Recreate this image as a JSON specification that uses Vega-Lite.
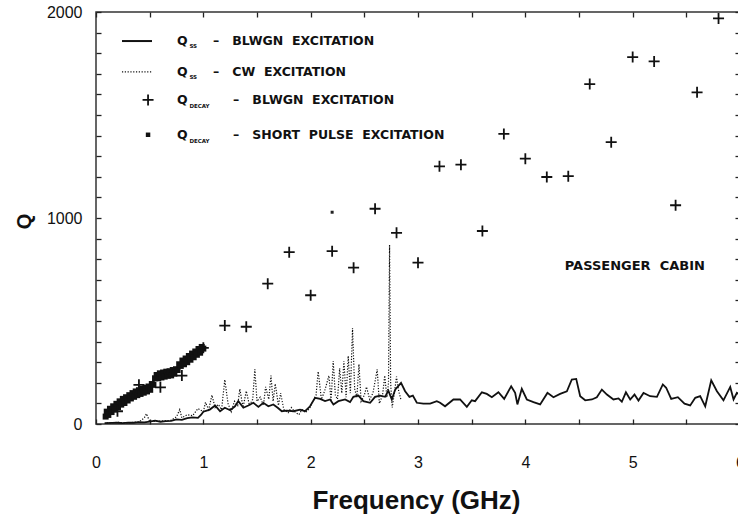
{
  "$schema": "https://vega.github.io/schema/vega-lite/v6.json",
  "width": 644,
  "height": 412,
  "autosize": {"type": "none"},
  "padding": {"left": 96, "top": 12, "right": 0, "bottom": 95},
  "background": "white",
  "config": {
    "font": "Liberation Sans",
    "view": {"stroke": "#333", "strokeWidth": 1.5},
    "axis": {"domain": false, "grid": false, "ticks": true, "tickColor": "#222", "tickOpacity": 1, "tickWidth": 1.3, "tickSize": 5, "offset": -5, "labelColor": "#111", "titleColor": "#111", "labelFont": "Liberation Sans", "titleFont": "Liberation Sans"},
    "text": {"font": "DejaVu Sans", "fontWeight": "bold", "color": "#111"}
  },
  "datasets": {
    "ssBlwgn": [
      {"f": 0.08, "q": 4}, {"f": 0.15, "q": 5}, {"f": 0.2, "q": 6}, {"f": 0.25, "q": 4}, {"f": 0.3, "q": 7},
      {"f": 0.35, "q": 6}, {"f": 0.4, "q": 9}, {"f": 0.45, "q": 8}, {"f": 0.5, "q": 12}, {"f": 0.55, "q": 16},
      {"f": 0.6, "q": 11}, {"f": 0.65, "q": 14}, {"f": 0.7, "q": 15}, {"f": 0.75, "q": 22}, {"f": 0.8, "q": 20},
      {"f": 0.85, "q": 28}, {"f": 0.9, "q": 32}, {"f": 0.95, "q": 30}, {"f": 0.98, "q": 45}, {"f": 1.0, "q": 60},
      {"f": 1.06, "q": 70}, {"f": 1.11, "q": 90}, {"f": 1.156, "q": 62}, {"f": 1.2, "q": 79}, {"f": 1.25, "q": 67},
      {"f": 1.295, "q": 86}, {"f": 1.326, "q": 111}, {"f": 1.373, "q": 79}, {"f": 1.419, "q": 90}, {"f": 1.466, "q": 103},
      {"f": 1.513, "q": 83}, {"f": 1.559, "q": 103}, {"f": 1.606, "q": 86}, {"f": 1.652, "q": 95}, {"f": 1.693, "q": 79},
      {"f": 1.731, "q": 62}, {"f": 1.777, "q": 65}, {"f": 1.839, "q": 62}, {"f": 1.901, "q": 70}, {"f": 1.948, "q": 62},
      {"f": 1.994, "q": 86}, {"f": 2.041, "q": 127}, {"f": 2.088, "q": 122}, {"f": 2.134, "q": 111}, {"f": 2.181, "q": 119},
      {"f": 2.212, "q": 95}, {"f": 2.258, "q": 111}, {"f": 2.321, "q": 119}, {"f": 2.367, "q": 106}, {"f": 2.398, "q": 132},
      {"f": 2.445, "q": 138}, {"f": 2.491, "q": 111}, {"f": 2.554, "q": 103}, {"f": 2.6, "q": 132}, {"f": 2.647, "q": 138},
      {"f": 2.693, "q": 132}, {"f": 2.724, "q": 162}, {"f": 2.756, "q": 119}, {"f": 2.787, "q": 167}, {"f": 2.842, "q": 200},
      {"f": 2.88, "q": 159}, {"f": 2.92, "q": 132}, {"f": 2.952, "q": 138}, {"f": 2.989, "q": 103}, {"f": 3.05, "q": 99},
      {"f": 3.113, "q": 99}, {"f": 3.175, "q": 111}, {"f": 3.206, "q": 103}, {"f": 3.252, "q": 86}, {"f": 3.33, "q": 119},
      {"f": 3.392, "q": 119}, {"f": 3.455, "q": 83}, {"f": 3.501, "q": 115}, {"f": 3.532, "q": 111}, {"f": 3.595, "q": 154},
      {"f": 3.641, "q": 146}, {"f": 3.688, "q": 130}, {"f": 3.749, "q": 154}, {"f": 3.803, "q": 122}, {"f": 3.868, "q": 183},
      {"f": 3.905, "q": 151}, {"f": 3.926, "q": 95}, {"f": 3.967, "q": 171}, {"f": 4.014, "q": 119}, {"f": 4.076, "q": 106},
      {"f": 4.138, "q": 95}, {"f": 4.206, "q": 151}, {"f": 4.262, "q": 130}, {"f": 4.324, "q": 146}, {"f": 4.387, "q": 159},
      {"f": 4.433, "q": 216}, {"f": 4.474, "q": 219}, {"f": 4.511, "q": 135}, {"f": 4.558, "q": 115}, {"f": 4.62, "q": 119},
      {"f": 4.666, "q": 130}, {"f": 4.713, "q": 167}, {"f": 4.76, "q": 143}, {"f": 4.821, "q": 119}, {"f": 4.868, "q": 124},
      {"f": 4.899, "q": 108}, {"f": 4.937, "q": 154}, {"f": 4.977, "q": 119}, {"f": 5.017, "q": 143}, {"f": 5.054, "q": 114},
      {"f": 5.101, "q": 151}, {"f": 5.163, "q": 135}, {"f": 5.226, "q": 132}, {"f": 5.281, "q": 192}, {"f": 5.312, "q": 176},
      {"f": 5.359, "q": 122}, {"f": 5.421, "q": 130}, {"f": 5.483, "q": 99}, {"f": 5.536, "q": 90}, {"f": 5.583, "q": 127},
      {"f": 5.629, "q": 135}, {"f": 5.676, "q": 86}, {"f": 5.732, "q": 212}, {"f": 5.785, "q": 159}, {"f": 5.846, "q": 115},
      {"f": 5.909, "q": 180}, {"f": 5.94, "q": 119}, {"f": 5.971, "q": 151}, {"f": 6.0, "q": 140}
    ],
    "ssCw": [
      {"f": 0.1, "q": 5}, {"f": 0.2, "q": 8}, {"f": 0.3, "q": 6}, {"f": 0.4, "q": 10}, {"f": 0.45, "q": 30},
      {"f": 0.47, "q": 50}, {"f": 0.5, "q": 12}, {"f": 0.6, "q": 14}, {"f": 0.7, "q": 18}, {"f": 0.75, "q": 35},
      {"f": 0.78, "q": 70}, {"f": 0.8, "q": 30}, {"f": 0.85, "q": 45}, {"f": 0.9, "q": 40}, {"f": 0.95, "q": 75},
      {"f": 1.0, "q": 60}, {"f": 1.02, "q": 105}, {"f": 1.05, "q": 70}, {"f": 1.08, "q": 140}, {"f": 1.11, "q": 80},
      {"f": 1.14, "q": 95}, {"f": 1.17, "q": 70}, {"f": 1.2, "q": 215}, {"f": 1.23, "q": 100}, {"f": 1.26, "q": 60},
      {"f": 1.29, "q": 110}, {"f": 1.32, "q": 90}, {"f": 1.34, "q": 170}, {"f": 1.37, "q": 80}, {"f": 1.4, "q": 160},
      {"f": 1.43, "q": 90}, {"f": 1.46, "q": 120}, {"f": 1.48, "q": 265}, {"f": 1.5, "q": 110}, {"f": 1.53, "q": 130},
      {"f": 1.56, "q": 90}, {"f": 1.58, "q": 180}, {"f": 1.61, "q": 120}, {"f": 1.63, "q": 235}, {"f": 1.65, "q": 110},
      {"f": 1.67, "q": 195}, {"f": 1.7, "q": 90}, {"f": 1.72, "q": 150}, {"f": 1.75, "q": 70}, {"f": 1.79, "q": 55},
      {"f": 1.82, "q": 80}, {"f": 1.85, "q": 60}, {"f": 1.89, "q": 45}, {"f": 1.92, "q": 70}, {"f": 1.95, "q": 55},
      {"f": 1.99, "q": 75}, {"f": 2.02, "q": 110}, {"f": 2.05, "q": 140}, {"f": 2.07, "q": 255}, {"f": 2.1, "q": 120},
      {"f": 2.13, "q": 160}, {"f": 2.17, "q": 235}, {"f": 2.19, "q": 110}, {"f": 2.21, "q": 305}, {"f": 2.23, "q": 140},
      {"f": 2.25, "q": 120}, {"f": 2.27, "q": 270}, {"f": 2.29, "q": 150}, {"f": 2.31, "q": 305}, {"f": 2.33, "q": 130},
      {"f": 2.35, "q": 330}, {"f": 2.37, "q": 150}, {"f": 2.39, "q": 465}, {"f": 2.41, "q": 170}, {"f": 2.43, "q": 130},
      {"f": 2.45, "q": 290}, {"f": 2.47, "q": 110}, {"f": 2.5, "q": 140}, {"f": 2.52, "q": 180}, {"f": 2.55, "q": 120},
      {"f": 2.58, "q": 150}, {"f": 2.62, "q": 265}, {"f": 2.64, "q": 100}, {"f": 2.67, "q": 140}, {"f": 2.69, "q": 235},
      {"f": 2.71, "q": 130}, {"f": 2.725, "q": 200}, {"f": 2.735, "q": 870}, {"f": 2.745, "q": 200}, {"f": 2.76, "q": 80},
      {"f": 2.78, "q": 150}, {"f": 2.8, "q": 230}, {"f": 2.82, "q": 160}, {"f": 2.84, "q": 120}
    ],
    "decayBlwgn": [
      {"f": 0.2, "q": 62}, {"f": 0.4, "q": 190}, {"f": 0.6, "q": 178}, {"f": 0.8, "q": 235}, {"f": 1.0, "q": 370},
      {"f": 1.2, "q": 478}, {"f": 1.4, "q": 472}, {"f": 1.6, "q": 681}, {"f": 1.8, "q": 834}, {"f": 2.0, "q": 625},
      {"f": 2.2, "q": 839}, {"f": 2.4, "q": 759}, {"f": 2.6, "q": 1045}, {"f": 2.8, "q": 928}, {"f": 3.0, "q": 783},
      {"f": 3.2, "q": 1251}, {"f": 3.4, "q": 1259}, {"f": 3.6, "q": 937}, {"f": 3.8, "q": 1408}, {"f": 4.0, "q": 1288},
      {"f": 4.2, "q": 1199}, {"f": 4.4, "q": 1203}, {"f": 4.6, "q": 1650}, {"f": 4.8, "q": 1368}, {"f": 5.0, "q": 1781},
      {"f": 5.2, "q": 1760}, {"f": 5.4, "q": 1062}, {"f": 5.6, "q": 1610}, {"f": 5.8, "q": 1969}
    ],
    "decayPulse": [
      {"f": 0.09, "q": 36}, {"f": 0.1, "q": 60}, {"f": 0.115, "q": 44}, {"f": 0.13, "q": 74}, {"f": 0.145, "q": 58},
      {"f": 0.16, "q": 86}, {"f": 0.175, "q": 70}, {"f": 0.19, "q": 98}, {"f": 0.205, "q": 82}, {"f": 0.22, "q": 110},
      {"f": 0.235, "q": 94}, {"f": 0.25, "q": 122}, {"f": 0.265, "q": 102}, {"f": 0.28, "q": 130}, {"f": 0.295, "q": 114},
      {"f": 0.31, "q": 140}, {"f": 0.325, "q": 124}, {"f": 0.34, "q": 150}, {"f": 0.355, "q": 132}, {"f": 0.37, "q": 158},
      {"f": 0.385, "q": 140}, {"f": 0.4, "q": 164}, {"f": 0.415, "q": 146}, {"f": 0.43, "q": 170}, {"f": 0.445, "q": 152},
      {"f": 0.46, "q": 176}, {"f": 0.475, "q": 158}, {"f": 0.49, "q": 182}, {"f": 0.505, "q": 166}, {"f": 0.52, "q": 194},
      {"f": 0.535, "q": 190}, {"f": 0.55, "q": 222}, {"f": 0.565, "q": 238}, {"f": 0.58, "q": 222}, {"f": 0.595, "q": 246},
      {"f": 0.61, "q": 226}, {"f": 0.625, "q": 250}, {"f": 0.64, "q": 230}, {"f": 0.655, "q": 254}, {"f": 0.67, "q": 234},
      {"f": 0.685, "q": 256}, {"f": 0.7, "q": 236}, {"f": 0.715, "q": 262}, {"f": 0.73, "q": 244}, {"f": 0.745, "q": 266},
      {"f": 0.76, "q": 262}, {"f": 0.775, "q": 290}, {"f": 0.79, "q": 282}, {"f": 0.805, "q": 308}, {"f": 0.82, "q": 290},
      {"f": 0.835, "q": 318}, {"f": 0.85, "q": 300}, {"f": 0.865, "q": 330}, {"f": 0.88, "q": 312}, {"f": 0.895, "q": 342},
      {"f": 0.91, "q": 324}, {"f": 0.925, "q": 352}, {"f": 0.94, "q": 336}, {"f": 0.955, "q": 364}, {"f": 0.97, "q": 346},
      {"f": 0.985, "q": 374}, {"f": 1.0, "q": 366}, {"f": 2.2, "q": 1028}
    ]
  },
  "layer": [
    {
      "data": {"name": "ssCw"},
      "mark": {"type": "line", "color": "#111", "strokeWidth": 1.2, "strokeDash": [1.2, 1.6]},
      "encoding": {
        "x": {
          "field": "f", "type": "quantitative",
          "scale": {"domain": [0, 6], "nice": false, "zero": false},
          "axis": {
            "orient": "bottom", "values": [0, 0.5, 1, 1.5, 2, 2.5, 3, 3.5, 4, 4.5, 5, 5.5, 6],
            "format": "~g", "labelExpr": "datum.value % 1 ? '' : datum.label",
            "labelOverlap": false, "labelFlush": false,
            "labelPadding": 30, "labelFontSize": 16,
            "title": "Frequency (GHz)", "titleFontSize": 26, "titleFontWeight": "bold",
            "titleX": 320, "titleY": 81, "titleBaseline": "middle", "titleAlign": "center"
          }
        },
        "y": {
          "field": "q", "type": "quantitative",
          "scale": {"domain": [0, 2000], "nice": false},
          "axis": {
            "orient": "left", "values": [0, 100, 200, 300, 400, 500, 600, 700, 800, 900, 1000, 1100, 1200, 1300, 1400, 1500, 1600, 1700, 1800, 1900, 2000],
            "format": "d", "labelExpr": "datum.value % 1000 ? '' : datum.label",
            "labelOverlap": false, "labelFlush": false,
            "labelPadding": 14, "labelFontSize": 16,
            "title": "Q", "titleFontSize": 20, "titleFontWeight": "bold",
            "titleX": -77, "titleY": 209, "titleBaseline": "middle", "titleAlign": "center"
          }
        }
      }
    },
    {
      "data": {"name": "ssBlwgn"},
      "mark": {"type": "line", "color": "#111", "strokeWidth": 1.8},
      "encoding": {
        "x": {
          "field": "f", "type": "quantitative",
          "axis": {"orient": "top", "values": [0, 0.5, 1, 1.5, 2, 2.5, 3, 3.5, 4, 4.5, 5, 5.5, 6], "labels": false, "title": null}
        },
        "y": {
          "field": "q", "type": "quantitative",
          "axis": {"orient": "right", "values": [0, 100, 200, 300, 400, 500, 600, 700, 800, 900, 1000, 1100, 1200, 1300, 1400, 1500, 1600, 1700, 1800, 1900, 2000], "labels": false, "title": null}
        }
      }
    },
    {
      "data": {"name": "decayPulse"},
      "transform": [{"filter": "datum.f <= 1.5"}],
      "mark": {"type": "point", "shape": "square", "filled": true, "color": "#111", "size": 36, "opacity": 1},
      "encoding": {
        "x": {"field": "f", "type": "quantitative", "axis": null},
        "y": {"field": "q", "type": "quantitative", "axis": null}
      }
    },
    {
      "data": {"name": "decayPulse"},
      "transform": [{"filter": "datum.f > 1.5"}],
      "mark": {"type": "point", "shape": "square", "filled": true, "color": "#222", "size": 9, "opacity": 1},
      "encoding": {
        "x": {"field": "f", "type": "quantitative", "axis": null},
        "y": {"field": "q", "type": "quantitative", "axis": null}
      }
    },
    {
      "data": {"name": "decayBlwgn"},
      "mark": {"type": "point", "shape": "M-1,0H1M0,-1V1", "filled": false, "color": "#111", "strokeWidth": 1.8, "size": 121, "opacity": 1},
      "encoding": {
        "x": {"field": "f", "type": "quantitative", "axis": null},
        "y": {"field": "q", "type": "quantitative", "axis": null}
      }
    },
    {
      "data": {"values": [{}]},
      "mark": {"type": "rule", "color": "#111", "strokeWidth": 2},
      "encoding": {
        "x": {"datum": 0.242, "type": "quantitative", "axis": null},
        "x2": {"datum": 0.522},
        "y": {"datum": 1859, "type": "quantitative", "axis": null}
      }
    },
    {
      "data": {"values": [{}]},
      "mark": {"type": "rule", "color": "#111", "strokeWidth": 1.2, "strokeDash": [1.2, 1.6]},
      "encoding": {
        "x": {"datum": 0.242, "type": "quantitative", "axis": null},
        "x2": {"datum": 0.522},
        "y": {"datum": 1709, "type": "quantitative", "axis": null}
      }
    },
    {
      "data": {"values": [{}]},
      "mark": {"type": "point", "shape": "M-1,0H1M0,-1V1", "filled": false, "color": "#111", "strokeWidth": 1.8, "size": 121, "opacity": 1},
      "encoding": {
        "x": {"datum": 0.485, "type": "quantitative", "axis": null},
        "y": {"datum": 1573, "type": "quantitative", "axis": null}
      }
    },
    {
      "data": {"values": [{}]},
      "mark": {"type": "point", "shape": "square", "filled": true, "color": "#111", "size": 20, "opacity": 1},
      "encoding": {
        "x": {"datum": 0.485, "type": "quantitative", "axis": null},
        "y": {"datum": 1404, "type": "quantitative", "axis": null}
      }
    },
    {
      "data": {"values": [{}]},
      "mark": {"type": "text", "text": "Q", "align": "left", "baseline": "middle", "fontSize": 12.5},
      "encoding": {"x": {"datum": 0.755, "type": "quantitative", "axis": null}, "y": {"datum": 1859, "type": "quantitative", "axis": null}}
    },
    {
      "data": {"values": [{}]},
      "mark": {"type": "text", "text": "Q", "align": "left", "baseline": "middle", "fontSize": 12.5},
      "encoding": {"x": {"datum": 0.755, "type": "quantitative", "axis": null}, "y": {"datum": 1709, "type": "quantitative", "axis": null}}
    },
    {
      "data": {"values": [{}]},
      "mark": {"type": "text", "text": "Q", "align": "left", "baseline": "middle", "fontSize": 12.5},
      "encoding": {"x": {"datum": 0.755, "type": "quantitative", "axis": null}, "y": {"datum": 1573, "type": "quantitative", "axis": null}}
    },
    {
      "data": {"values": [{}]},
      "mark": {"type": "text", "text": "Q", "align": "left", "baseline": "middle", "fontSize": 12.5},
      "encoding": {"x": {"datum": 0.755, "type": "quantitative", "axis": null}, "y": {"datum": 1404, "type": "quantitative", "axis": null}}
    },
    {
      "data": {"values": [{}]},
      "mark": {"type": "text", "text": "SS", "align": "left", "baseline": "middle", "fontSize": 5.5},
      "encoding": {"x": {"datum": 0.87, "type": "quantitative", "axis": null}, "y": {"datum": 1834, "type": "quantitative", "axis": null}}
    },
    {
      "data": {"values": [{}]},
      "mark": {"type": "text", "text": "SS", "align": "left", "baseline": "middle", "fontSize": 5.5},
      "encoding": {"x": {"datum": 0.87, "type": "quantitative", "axis": null}, "y": {"datum": 1684, "type": "quantitative", "axis": null}}
    },
    {
      "data": {"values": [{}]},
      "mark": {"type": "text", "text": "DECAY", "align": "left", "baseline": "middle", "fontSize": 5.5},
      "encoding": {"x": {"datum": 0.87, "type": "quantitative", "axis": null}, "y": {"datum": 1543, "type": "quantitative", "axis": null}}
    },
    {
      "data": {"values": [{}]},
      "mark": {"type": "text", "text": "DECAY", "align": "left", "baseline": "middle", "fontSize": 5.5},
      "encoding": {"x": {"datum": 0.87, "type": "quantitative", "axis": null}, "y": {"datum": 1374, "type": "quantitative", "axis": null}}
    },
    {
      "data": {"values": [{}]},
      "mark": {"type": "text", "text": "–\u00a0\u00a0\u00a0BLWGN\u00a0\u00a0EXCITATION", "align": "left", "baseline": "middle", "fontSize": 12.5},
      "encoding": {"x": {"datum": 1.09, "type": "quantitative", "axis": null}, "y": {"datum": 1859, "type": "quantitative", "axis": null}}
    },
    {
      "data": {"values": [{}]},
      "mark": {"type": "text", "text": "–\u00a0\u00a0\u00a0CW\u00a0\u00a0EXCITATION", "align": "left", "baseline": "middle", "fontSize": 12.5},
      "encoding": {"x": {"datum": 1.09, "type": "quantitative", "axis": null}, "y": {"datum": 1709, "type": "quantitative", "axis": null}}
    },
    {
      "data": {"values": [{}]},
      "mark": {"type": "text", "text": "–\u00a0\u00a0\u00a0BLWGN\u00a0\u00a0EXCITATION", "align": "left", "baseline": "middle", "fontSize": 12.5},
      "encoding": {"x": {"datum": 1.277, "type": "quantitative", "axis": null}, "y": {"datum": 1573, "type": "quantitative", "axis": null}}
    },
    {
      "data": {"values": [{}]},
      "mark": {"type": "text", "text": "–\u00a0\u00a0\u00a0SHORT\u00a0\u00a0PULSE\u00a0\u00a0EXCITATION", "align": "left", "baseline": "middle", "fontSize": 12.5},
      "encoding": {"x": {"datum": 1.277, "type": "quantitative", "axis": null}, "y": {"datum": 1404, "type": "quantitative", "axis": null}}
    },
    {
      "data": {"values": [{}]},
      "mark": {"type": "text", "text": "PASSENGER\u00a0\u00a0CABIN", "align": "center", "baseline": "middle", "fontSize": 13},
      "encoding": {"x": {"datum": 5.02, "type": "quantitative", "axis": null}, "y": {"datum": 765, "type": "quantitative", "axis": null}}
    }
  ]
}
